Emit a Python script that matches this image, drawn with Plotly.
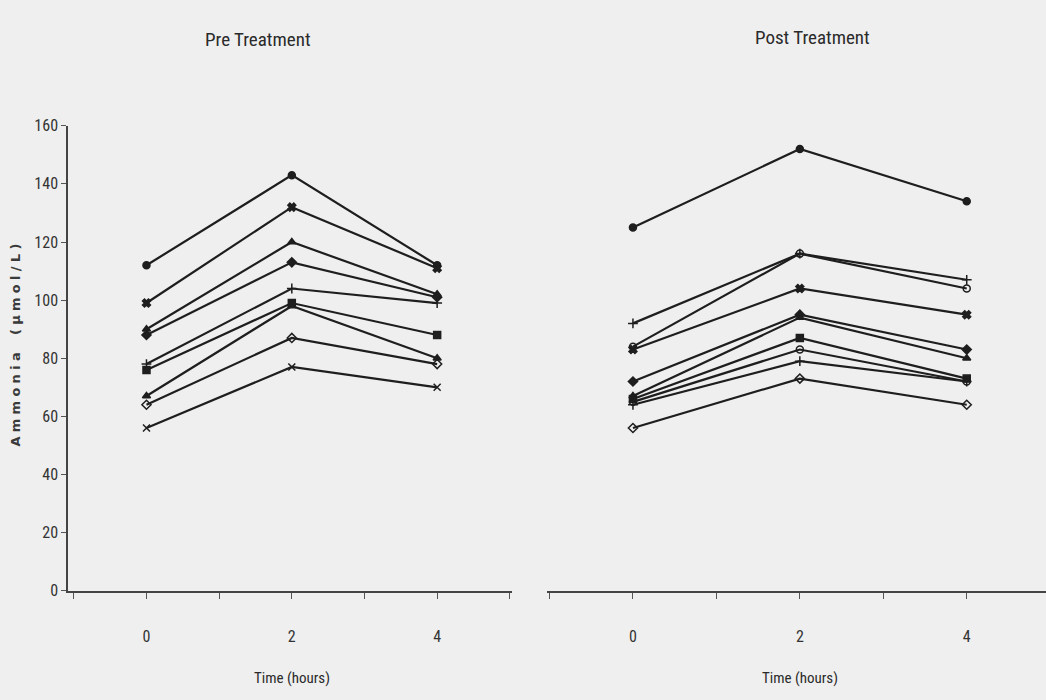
import plotly.graph_objects as go

# Sampling times (hours)
times = [0, 2, 4]

# Ammonia (µmol/L) per subject, before treatment
pre_a = [112, 143, 112]
pre_b = [99, 132, 111]
pre_c = [90, 120, 102]
pre_d = [88, 113, 101]
pre_e = [78, 104, 99]
pre_f = [76, 99, 88]
pre_g = [67, 98, 80]
pre_h = [64, 87, 78]
pre_i = [56, 77, 70]

# Ammonia (µmol/L) per subject, after treatment
post_a = [125, 152, 134]
post_b = [92, 116, 107]
post_c = [84, 116, 104]
post_d = [83, 104, 95]
post_e = [72, 95, 83]
post_f = [67, 94, 80]
post_g = [66, 87, 73]
post_h = [65, 83, 72]
post_i = [64, 79, 72]
post_j = [56, 73, 64]

pre_series = [pre_a, pre_b, pre_c, pre_d, pre_e, pre_f, pre_g, pre_h, pre_i]
post_series = [post_a, post_b, post_c, post_d, post_e, post_f, post_g, post_h, post_i, post_j]

pre_symbols = ["circle", "x", "triangle-up", "diamond", "cross-thin",
               "square", "triangle-up", "diamond-open", "x-thin"]
post_symbols = ["circle", "cross-thin", "circle-open", "x", "diamond",
                "triangle-up", "square", "circle-open", "cross-thin", "diamond-open"]

x_ticks = [-1, 0, 1, 2, 3, 4, 5]
x_tick_text = ["", "0", "", "2", "", "4", ""]
y_ticks = [0, 20, 40, 60, 80, 100, 120, 140, 160]

W, H = 1046, 700
INK = "#1e1e1e"
BG = "#efefef"
NARROW = "Liberation Sans Narrow, Roboto Condensed, Arial Narrow, sans-serif"

fig = go.Figure()

for vals, sym in zip(pre_series, pre_symbols):
    fig.add_trace(go.Scatter(
        x=times, y=vals, mode="lines+markers", xaxis="x", yaxis="y",
        line=dict(color=INK, width=2.2),
        marker=dict(symbol=sym, size=7, color=INK, line=dict(color=INK, width=1.5)),
        showlegend=False, hoverinfo="skip"))

for vals, sym in zip(post_series, post_symbols):
    fig.add_trace(go.Scatter(
        x=times, y=vals, mode="lines+markers", xaxis="x2", yaxis="y2",
        line=dict(color=INK, width=2.2),
        marker=dict(symbol=sym, size=7, color=INK, line=dict(color=INK, width=1.5)),
        showlegend=False, hoverinfo="skip"))

y_bottom = (H - 598) / H
y_top = (H - 120) / H

xcommon = dict(
    tickmode="array", tickvals=x_ticks, ticktext=x_tick_text,
    ticks="outside", ticklen=6, tickwidth=1, tickcolor="#555",
    showline=True, linecolor="#444", linewidth=1.5,
    showgrid=False, zeroline=False,
    tickfont=dict(family=NARROW, size=16, color="#333"),
    ticklabelstandoff=24,
)

fig.update_layout(
    width=W, height=H,
    margin=dict(l=0, r=0, t=0, b=0),
    paper_bgcolor=BG, plot_bgcolor=BG,
    xaxis=dict(domain=[68 / W, 512 / W], range=[-1.08, 5.03], anchor="y", **xcommon),
    xaxis2=dict(domain=[547 / W, 1.0], range=[-1.03, 4.95], anchor="y2", **xcommon),
    yaxis=dict(
        domain=[y_bottom, y_top], range=[0, 160], anchor="x",
        tickmode="array", tickvals=y_ticks,
        ticks="outside", ticklen=5, tickwidth=1, tickcolor="#555",
        showline=True, linecolor="#444", linewidth=1.5,
        showgrid=False, zeroline=False,
        tickfont=dict(family=NARROW, size=16, color="#333"),
    ),
    yaxis2=dict(
        domain=[y_bottom, y_top], range=[0, 160], anchor="x2",
        showline=False, showticklabels=False, ticks="",
        showgrid=False, zeroline=False,
    ),
)

annots = [
    dict(text="Pre Treatment", x=258 / W, y=1 - 31 / H, size=19),
    dict(text="Post Treatment", x=812 / W, y=1 - 29 / H, size=19),
    dict(text="Time (hours)", x=292 / W, y=1 - 688 / H, size=15),
    dict(text="Time (hours)", x=800 / W, y=1 - 688 / H, size=15),
]
for a in annots:
    fig.add_annotation(
        text=a["text"], x=a["x"], y=a["y"], xref="paper", yref="paper",
        xanchor="center", yanchor="middle", showarrow=False,
        font=dict(family=NARROW, size=a["size"], color="#2a2a2a"))

# Wide-tracked rotated y-axis caption
fig.add_annotation(
    text="\u2004".join("Ammonia") + "\u2003\u2004" + "\u2004".join("(µmol/L)"),
    x=16 / W, y=1 - 346 / H, xref="paper", yref="paper",
    xanchor="center", yanchor="middle", showarrow=False, textangle=-90,
    font=dict(family="DejaVu Sans", size=13, color="#3a3a3a", weight="bold"))

fig.write_html("out.html")
